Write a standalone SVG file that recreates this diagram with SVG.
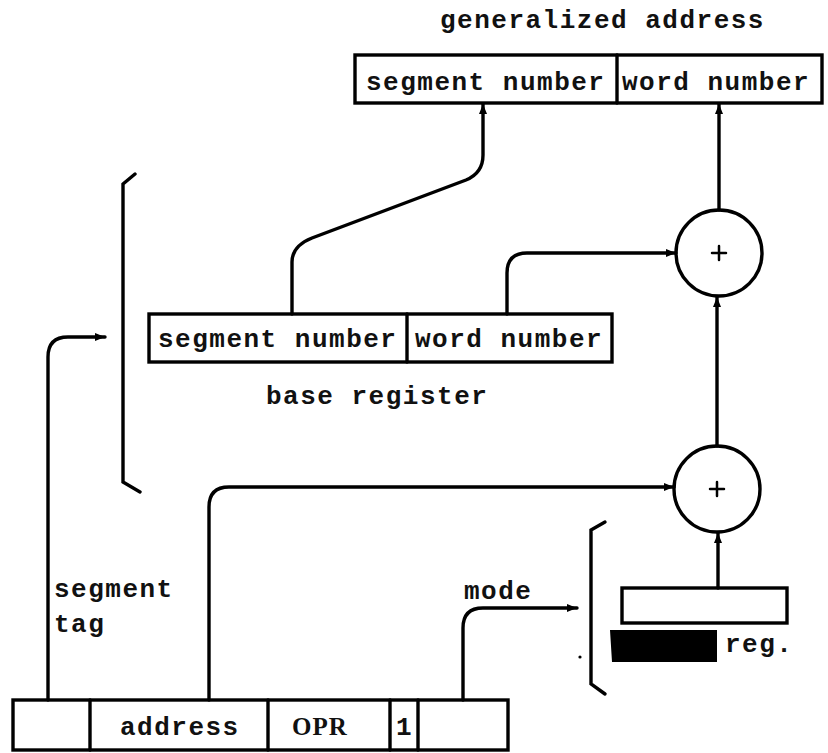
<svg xmlns="http://www.w3.org/2000/svg" width="828" height="753" viewBox="0 0 828 753">
<style>
.box{fill:#fff;stroke:#000;stroke-width:3.4}
.ln{fill:none;stroke:#000;stroke-width:3.4;stroke-linecap:round}
.t{font-family:"Liberation Mono","DejaVu Sans Mono",monospace;font-weight:bold;font-size:26px;letter-spacing:1.5px;fill:#111}
</style>
<defs>
<marker id="ah" viewBox="0 0 10 10" refX="10" refY="5" markerWidth="12" markerHeight="10" markerUnits="userSpaceOnUse" orient="auto">
<path d="M0,1 L10,5 L0,9 Z" fill="#000"/>
</marker>
</defs>
<rect width="828" height="753" fill="#fff"/>
<g id="generalized-address">
<text class="t" x="440" y="28">generalized address</text>
<rect class="box" x="355" y="55" width="467" height="48"/>
<line class="ln" x1="617" y1="55" x2="617" y2="103"/>
<text class="t" x="366" y="90">segment number</text>
<text class="t" x="622" y="90">word number</text>
</g>
<g id="base-register">
<rect class="box" x="149" y="314" width="463" height="48"/>
<line class="ln" x1="407" y1="314" x2="407" y2="362"/>
<text class="t" x="158" y="347">segment number</text>
<text class="t" x="415" y="347">word number</text>
<text class="t" x="266" y="404">base register</text>
</g>
<g id="left-bracket">
<path class="ln" d="M135,174 L123,184 V482 L140,492"/>
</g>
<g id="adder-top">
<circle class="box" cx="719" cy="253" r="43"/>
<path class="ln" d="M712,253 H726 M719,246 V260" style="stroke-width:2.5"/>
</g>
<g id="adder-bottom">
<circle class="box" cx="717" cy="489" r="43"/>
<path class="ln" d="M710,489 H724 M717,482 V496" style="stroke-width:2.5"/>
</g>
<g id="index-register">
<path class="ln" d="M605,522 L591,530 V684 L605,694"/>
<circle cx="580" cy="657" r="1.6" fill="#000"/>
<rect class="box" x="622" y="588" width="165" height="35"/>
<path d="M610,630 H717 V662 H612 Z" fill="#000"/>
<text class="t" x="725" y="652">reg.</text>
</g>
<g id="instruction">
<rect class="box" x="13" y="700" width="495" height="50"/>
<path class="ln" d="M90,700 V750 M268,700 V750 M390,700 V750 M418,700 V750"/>
<text class="t" x="120" y="735">address</text>
<text class="t" x="292" y="735" style="font-family:'Liberation Serif',serif;font-size:25px;letter-spacing:1px">OPR</text>
<text class="t" x="396" y="735">1</text>
</g>
<g id="labels">
<text class="t" x="54" y="597">segment</text>
<text class="t" x="54" y="632">tag</text>
<text class="t" x="464" y="599">mode</text>
</g>
<g id="connectors">
<path class="ln" marker-end="url(#ah)" d="M48,700 V357 Q48,337 68,337 H105"/>
<path class="ln" marker-end="url(#ah)" d="M209,700 V507 Q209,487 229,487 H674"/>
<path class="ln" marker-end="url(#ah)" d="M463,700 V628 Q463,608 483,608 H577"/>
<path class="ln" marker-end="url(#ah)" d="M718,588 V533"/>
<path class="ln" marker-end="url(#ah)" d="M717,446 V297"/>
<path class="ln" marker-end="url(#ah)" d="M719,210 V104"/>
<path class="ln" marker-end="url(#ah)" d="M507,314 V273 Q507,253 527,253 H676"/>
<path class="ln" marker-end="url(#ah)" d="M292,314 V262 Q292,246 312,238 L466,180 Q483,173 483,155 V104"/>
</g>
</svg>
